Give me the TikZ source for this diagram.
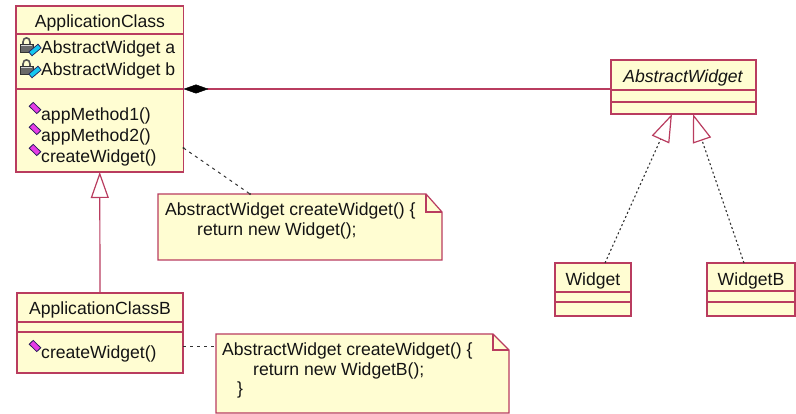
\documentclass[tikz,border=0pt]{standalone}
\usepackage{fontspec}
\setmainfont{Liberation Sans}
\usetikzlibrary{arrows.meta}

\definecolor{umlline}{RGB}{185,60,95}
\definecolor{umlfill}{RGB}{255,253,210}
\definecolor{umltext}{RGB}{20,20,20}
\definecolor{dashcol}{RGB}{50,50,50}
\definecolor{opfill}{RGB}{230,60,230}
\definecolor{opedge}{RGB}{40,30,90}
\definecolor{attrfill}{RGB}{20,200,240}
\definecolor{lockbody}{RGB}{105,105,105}

% private attribute marker: padlock plus cyan rhombus (x of lock, text baseline)
\newcommand\attricon[2]{%
  \draw[lockbody!80!black, line width=1.6pt]
    (#1+3,#2-9) -- (#1+3,#2-12)
    .. controls (#1+3,#2-17.5) and (#1+10,#2-17.5) .. (#1+10,#2-12) -- (#1+10,#2-9);
  \filldraw[draw=black!80, fill=lockbody, line width=0.6pt]
    (#1,#2-10) rectangle (#1+13,#2-2);
  \fill[white!75!lockbody] (#1+1,#2-9) rectangle (#1+12,#2-7.5);
  \filldraw[draw=opedge, fill=attrfill, line width=0.7pt]
    (#1+15+6.2,#2-4-2.0) -- (#1+15+3.0,#2-4-5.8) -- (#1+15-6.2,#2-4+2.0)
    -- (#1+15-3.0,#2-4+5.8) -- cycle;
}
% public operation marker: magenta rhombus (centre x, text baseline)
\newcommand\opicon[2]{%
  \filldraw[draw=opedge, fill=opfill, line width=0.8pt]
    (#1+5.8,#2-13+1.8) -- (#1+1.8,#2-13+5.6) -- (#1-5.8,#2-13-1.8)
    -- (#1-1.8,#2-13-5.6) -- cycle;
}

\begin{document}
\begin{tikzpicture}[x=1pt,y=-1pt,
  font=\fontsize{17.6}{21}\selectfont,
  cls/.style={draw=umlline, fill=umlfill, line width=1.2pt, rectangle,
    anchor=north west, inner sep=0pt, outer sep=0pt},
  sepline/.style={draw=umlline, line width=1.2pt},
  txt/.style={anchor=base west, inner sep=0pt, text=umltext},
  ctxt/.style={anchor=base, inner sep=0pt, text=umltext},
  notebox/.style={rectangle, anchor=north west, inner sep=0pt, outer sep=0pt},
  noteline/.style={draw=umlline, fill=umlfill, line width=1.2pt},
  foldline/.style={draw=umlline, line width=1.2pt},
  compose/.style={draw=umlline, line width=1.2pt,
    {Diamond[length=25pt,width=9pt,black,fill=black,line width=0.5pt]}-},
  inherit/.style={draw=umlline, line width=1.2pt,
    -{Triangle[color=umlline,fill=white,length=26pt,width=18pt,line width=1.2pt]}},
  realize/.style={draw=dashcol, line width=1.1pt, dash pattern=on 2pt off 2.5pt,
    -{Triangle[color=umlline,fill=white,length=28pt,width=19pt,line width=1.2pt]}},
  notelink/.style={draw=dashcol, line width=1pt, dash pattern=on 3pt off 4pt},
]
\useasboundingbox (0,0) rectangle (796,414);

% ---------- ApplicationClass ----------
\node[cls, minimum width=167.5pt, minimum height=166pt] (ac) at (16,6) {};
\draw[sepline] ([yshift=-28pt]ac.north west) -- ([yshift=-28pt]ac.north east);
\draw[sepline] ([yshift=-83pt]ac.north west) -- ([yshift=-83pt]ac.north east);
\node[ctxt] (acname) at (100,28) {ApplicationClass};
\attricon{20}{54}
\attricon{20}{76}
\node[txt] (aca) at (41,54) {AbstractWidget a};
\node[txt] (acb2) at (41,76) {AbstractWidget b};
\opicon{35}{121}
\opicon{35}{142}
\opicon{35}{163}
\node[txt] (acm1) at (41,121) {appMethod1()};
\node[txt] (acm2) at (41,142) {appMethod2()};
\node[txt] (acm3) at (41,163) {createWidget()};

% ---------- ApplicationClassB ----------
\node[cls, minimum width=166pt, minimum height=80pt] (acb) at (17,293) {};
\draw[sepline] ([yshift=-29pt]acb.north west) -- ([yshift=-29pt]acb.north east);
\draw[sepline] ([yshift=-39pt]acb.north west) -- ([yshift=-39pt]acb.north east);
\node[ctxt] (acbname) at (100,315) {ApplicationClassB};
\opicon{35}{359}
\node[txt] (acbm) at (41,359) {createWidget()};

% ---------- AbstractWidget ----------
\node[cls, minimum width=145pt, minimum height=54pt] (aw) at (611,60) {};
\draw[sepline] ([yshift=-30pt]aw.north west) -- ([yshift=-30pt]aw.north east);
\draw[sepline] ([yshift=-42pt]aw.north west) -- ([yshift=-42pt]aw.north east);
\node[ctxt] (awname) at (683,82.5) {\itshape AbstractWidget};

% ---------- Widget ----------
\node[cls, minimum width=76pt, minimum height=53pt] (w) at (555,263) {};
\draw[sepline] ([yshift=-29pt]w.north west) -- ([yshift=-29pt]w.north east);
\draw[sepline] ([yshift=-39pt]w.north west) -- ([yshift=-39pt]w.north east);
\node[ctxt] (wname) at (593,285.5) {Widget};

% ---------- WidgetB ----------
\node[cls, minimum width=88pt, minimum height=53pt] (wb) at (707,263) {};
\draw[sepline] ([yshift=-28pt]wb.north west) -- ([yshift=-28pt]wb.north east);
\draw[sepline] ([yshift=-39pt]wb.north west) -- ([yshift=-39pt]wb.north east);
\node[ctxt] (wbname) at (751,285.5) {WidgetB};

% ---------- Notes ----------
\node[notebox, minimum width=284pt, minimum height=66pt] (n1) at (158,194) {};
\draw[noteline] (n1.north west) -- ([xshift=-16pt]n1.north east)
  -- ([yshift=-18pt]n1.north east) -- (n1.south east) -- (n1.south west) -- cycle;
\draw[foldline] ([xshift=-16pt]n1.north east) -- ([xshift=-16pt,yshift=-18pt]n1.north east)
  -- ([yshift=-18pt]n1.north east);
\node[txt] (n1a) at (165,216) {AbstractWidget createWidget() \{};
\node[txt] (n1b) at (197,235.7) {return new Widget();};

\node[notebox, minimum width=293pt, minimum height=79pt] (n2) at (216,334) {};
\draw[noteline] (n2.north west) -- ([xshift=-16pt]n2.north east)
  -- ([yshift=-16pt]n2.north east) -- (n2.south east) -- (n2.south west) -- cycle;
\draw[foldline] ([xshift=-16pt]n2.north east) -- ([xshift=-16pt,yshift=-16pt]n2.north east)
  -- ([yshift=-16pt]n2.north east);
\node[txt] (n2a) at (222,355.3) {AbstractWidget createWidget() \{};
\node[txt] (n2b) at (253,375.7) {return new WidgetB();};
\node[txt] (n2c) at (237,395) {\}};

% ---------- Connectors ----------
\draw[compose] (ac.east) -- (ac.east -| aw.west);
\draw[inherit] (acb.north) -- (ac.south);
\draw[realize] ([xshift=12pt]w.north) -- ([xshift=-11.5pt]aw.south);
\draw[realize] ([xshift=-7pt]wb.north) -- ([xshift=9.5pt]aw.south);

\coordinate (l1) at ([yshift=-59pt]ac.east);
\coordinate (l2) at ([yshift=-14pt]acb.east);
\draw[notelink] (l1) -- ([xshift=-50pt]n1.north);
\draw[notelink] (l2) -- (l2 -| n2.west);
\fill[dashcol] (l1) circle (1.2pt) ([xshift=-50pt]n1.north) circle (1.2pt);
\end{tikzpicture}
\end{document}
